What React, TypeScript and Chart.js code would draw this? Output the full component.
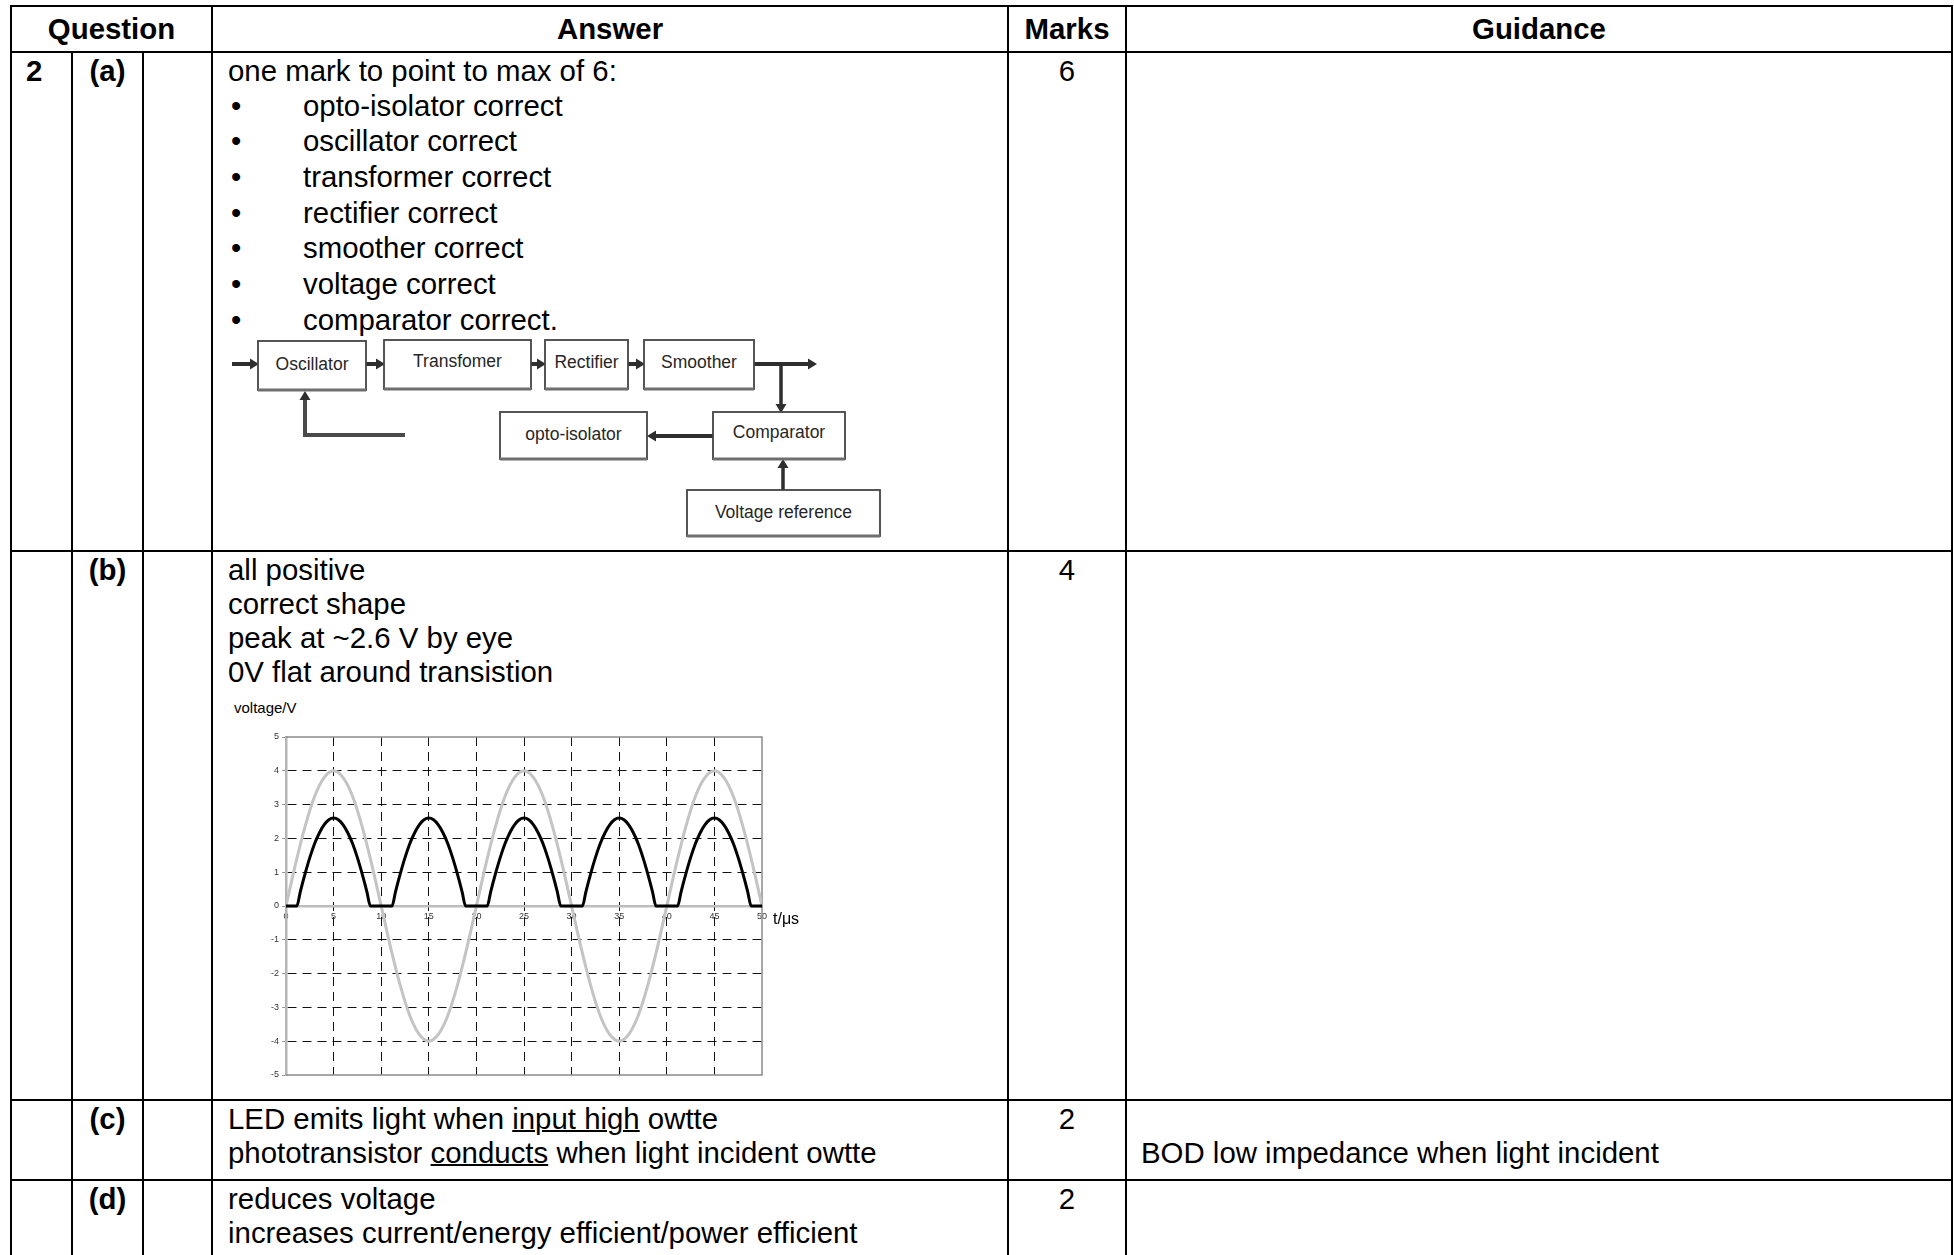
import React, { useEffect, useRef } from 'react';
import { Chart, registerables } from 'chart.js';

Chart.register(...registerables);

const FONT = '"Liberation Sans", Arial, Helvetica, sans-serif';

// ---------- chart data ----------
const xTickValues = [0, 5, 10, 15, 20, 25, 30, 35, 40, 45, 50];
const yTickValues = [-5, -4, -3, -2, -1, 0, 1, 2, 3, 4, 5];

const inputT = [
  0, 1, 2, 3, 4, 5, 6, 7, 8, 9, 10,
  11, 12, 13, 14, 15, 16, 17, 18, 19, 20,
  21, 22, 23, 24, 25, 26, 27, 28, 29, 30,
  31, 32, 33, 34, 35, 36, 37, 38, 39, 40,
  41, 42, 43, 44, 45, 46, 47, 48, 49, 50,
];
const inputV = [
  0, 1.24, 2.35, 3.24, 3.8, 4.0, 3.8, 3.24, 2.35, 1.24, 0,
  -1.24, -2.35, -3.24, -3.8, -4.0, -3.8, -3.24, -2.35, -1.24, 0,
  1.24, 2.35, 3.24, 3.8, 4.0, 3.8, 3.24, 2.35, 1.24, 0,
  -1.24, -2.35, -3.24, -3.8, -4.0, -3.8, -3.24, -2.35, -1.24, 0,
  1.24, 2.35, 3.24, 3.8, 4.0, 3.8, 3.24, 2.35, 1.24, 0,
];

const outputT = [
  0,
  1.14, 1.5, 2, 2.5, 3, 3.5, 4, 4.5, 5, 5.5, 6, 6.5, 7, 7.5, 8, 8.5, 8.86,
  11.14, 11.5, 12, 12.5, 13, 13.5, 14, 14.5, 15, 15.5, 16, 16.5, 17, 17.5, 18, 18.5, 18.86,
  21.14, 21.5, 22, 22.5, 23, 23.5, 24, 24.5, 25, 25.5, 26, 26.5, 27, 27.5, 28, 28.5, 28.86,
  31.14, 31.5, 32, 32.5, 33, 33.5, 34, 34.5, 35, 35.5, 36, 36.5, 37, 37.5, 38, 38.5, 38.86,
  41.14, 41.5, 42, 42.5, 43, 43.5, 44, 44.5, 45, 45.5, 46, 46.5, 47, 47.5, 48, 48.5, 48.86,
  50,
];
const outputV = [
  0,
  0, 0.42, 0.95, 1.43, 1.84, 2.16, 2.4, 2.55, 2.6, 2.55, 2.4, 2.16, 1.84, 1.43, 0.95, 0.42, 0,
  0, 0.42, 0.95, 1.43, 1.84, 2.16, 2.4, 2.55, 2.6, 2.55, 2.4, 2.16, 1.84, 1.43, 0.95, 0.42, 0,
  0, 0.42, 0.95, 1.43, 1.84, 2.16, 2.4, 2.55, 2.6, 2.55, 2.4, 2.16, 1.84, 1.43, 0.95, 0.42, 0,
  0, 0.42, 0.95, 1.43, 1.84, 2.16, 2.4, 2.55, 2.6, 2.55, 2.4, 2.16, 1.84, 1.43, 0.95, 0.42, 0,
  0, 0.42, 0.95, 1.43, 1.84, 2.16, 2.4, 2.55, 2.6, 2.55, 2.4, 2.16, 1.84, 1.43, 0.95, 0.42, 0,
  0,
];

// ---------- table text ----------
const headers = ['Question', 'Answer', 'Marks', 'Guidance'];
const bulletItems = [
  'opto-isolator correct',
  'oscillator correct',
  'transformer correct',
  'rectifier correct',
  'smoother correct',
  'voltage correct',
  'comparator correct.',
];
const partBLines = ['all positive', 'correct shape', 'peak at ~2.6 V by eye', '0V flat around transistion'];

const framePlugin = {
  id: 'frame',
  beforeDatasetsDraw(chart: any) {
    const { ctx, chartArea } = chart;
    const { left, right, top, bottom } = chartArea;
    ctx.save();
    ctx.strokeStyle = '#8c8c8c';
    ctx.lineWidth = 1.5;
    ctx.beginPath();
    ctx.moveTo(left, top);
    ctx.lineTo(right, top);
    ctx.lineTo(right, bottom);
    ctx.lineTo(left, bottom);
    ctx.stroke();
    ctx.restore();
  },
};

function VoltageChart() {
  const ref = useRef<HTMLCanvasElement>(null);
  useEffect(() => {
    if (!ref.current) return;
    const chart = new Chart(ref.current, {
      type: 'line',
      data: {
        datasets: [
          {
            label: 'output',
            data: outputT.map((t, i) => ({ x: t, y: outputV[i] })),
            borderColor: '#000000',
            borderWidth: 3,
            pointRadius: 0,
            cubicInterpolationMode: 'monotone',
            fill: false,
          },
          {
            label: 'input',
            data: inputT.map((t, i) => ({ x: t, y: inputV[i] })),
            borderColor: '#c4c4c4',
            borderWidth: 3,
            pointRadius: 0,
            cubicInterpolationMode: 'monotone',
            fill: false,
          },
        ],
      },
      options: {
        animation: false,
        responsive: false,
        events: [],
        layout: { padding: { left: 0, top: 12, right: 13, bottom: 10 } },
        plugins: { legend: { display: false }, tooltip: { enabled: false } },
        scales: {
          x: {
            type: 'linear',
            min: 0,
            max: 50,
            position: { y: 0 } as any,
            afterBuildTicks: (s: any) => {
              s.ticks = xTickValues.map((v) => ({ value: v }));
            },
            afterFit: (s: any) => {
              s.height = 0;
            },
            ticks: {
              font: { family: FONT, size: 9 },
              color: '#333',
              padding: 5,
              maxRotation: 0,
              autoSkip: false,
            },
            grid: {
              color: (c: any) =>
                c.tick && (c.tick.value === 0 || c.tick.value === 50) ? 'rgba(0,0,0,0)' : '#111',
              lineWidth: 1,
              drawTicks: false,
            },
            border: { display: true, color: '#bdbdbd', width: 2.5, dash: [9, 6] },
          },
          y: {
            type: 'linear',
            min: -5,
            max: 5,
            afterBuildTicks: (s: any) => {
              s.ticks = yTickValues.map((v) => ({ value: v }));
            },
            afterFit: (s: any) => {
              s.width = 56;
            },
            ticks: {
              font: { family: FONT, size: 9 },
              color: '#333',
              padding: 3,
            },
            grid: {
              color: (c: any) =>
                c.tick && (c.tick.value === 0 || c.tick.value === 5 || c.tick.value === -5)
                  ? 'rgba(0,0,0,0)'
                  : '#111',
              lineWidth: 1,
              drawTicks: true,
              tickLength: 4,
              tickColor: '#999',
            },
            border: { display: true, color: '#b5b5b5', width: 2.5, dash: [9, 6] },
          },
        },
      } as any,
      plugins: [framePlugin],
    });
    return () => chart.destroy();
  }, []);
  return (
    <canvas
      ref={ref}
      width={545}
      height={360}
      style={{ position: 'absolute', left: 230, top: 725, width: 545, height: 360 }}
    />
  );
}

// ---------- helpers ----------
type TProps = {
  x: number;
  y: number;
  children: React.ReactNode;
  bold?: boolean;
  size?: number;
  w?: number;
  center?: boolean;
};
function T({ x, y, children, bold, size = 29.4, w = 0, center }: TProps) {
  return (
    <div
      style={{
        position: 'absolute',
        left: x,
        top: y - 17,
        width: center ? w : undefined,
        height: 34,
        lineHeight: '34px',
        fontSize: size,
        fontWeight: bold ? 700 : 400,
        textAlign: center ? 'center' : 'left',
        whiteSpace: 'nowrap',
        color: '#000',
      }}
    >
      {children}
    </div>
  );
}

function HLine({ y, x1 = 10, x2 = 1953 }: { y: number; x1?: number; x2?: number }) {
  return <div style={{ position: 'absolute', left: x1, top: y, width: x2 - x1, height: 2, background: '#000' }} />;
}
function VLine({ x, y1, y2 = 1255 }: { x: number; y1: number; y2?: number }) {
  return <div style={{ position: 'absolute', left: x, top: y1, width: 2, height: y2 - y1, background: '#000' }} />;
}

const DG = '#2e2e2e';
function Box({ x, y, w, h, label, ty }: { x: number; y: number; w: number; h: number; label: string; ty?: number }) {
  return (
    <g>
      <rect x={x} y={y} width={w} height={h} fill="#fff" stroke="#444" strokeWidth={1.8} />
      <line x1={x} y1={y + h} x2={x + w} y2={y + h} stroke="#6e6e6e" strokeWidth={3.2} />
      <text
        x={x + w / 2}
        y={ty !== undefined ? ty : y + h / 2}
        textAnchor="middle"
        dominantBaseline="central"
        fontSize={17.5}
        fill="#262626"
        fontFamily={FONT}
      >
        {label}
      </text>
    </g>
  );
}
function Head({ x, y, dir }: { x: number; y: number; dir: 'r' | 'l' | 'u' | 'd' }) {
  const s = 9;
  const h = 5.5;
  let pts = '';
  if (dir === 'r') pts = `${x},${y} ${x - s},${y - h} ${x - s},${y + h}`;
  if (dir === 'l') pts = `${x},${y} ${x + s},${y - h} ${x + s},${y + h}`;
  if (dir === 'u') pts = `${x},${y} ${x - h},${y + s} ${x + h},${y + s}`;
  if (dir === 'd') pts = `${x},${y} ${x - h},${y - s} ${x + h},${y - s}`;
  return <polygon points={pts} fill={DG} />;
}

function Diagram() {
  return (
    <svg
      style={{ position: 'absolute', left: 225, top: 330 }}
      width={670}
      height={220}
      viewBox="225 330 670 220"
    >
      {/* arrows */}
      <line x1={232} y1={364} x2={252} y2={364} stroke={DG} strokeWidth={4} />
      <Head x={259} y={364} dir="r" />
      <line x1={366} y1={364} x2={378} y2={364} stroke={DG} strokeWidth={4} />
      <Head x={385} y={364} dir="r" />
      <line x1={531} y1={364} x2={539} y2={364} stroke={DG} strokeWidth={4} />
      <Head x={546} y={364} dir="r" />
      <line x1={628} y1={364} x2={638} y2={364} stroke={DG} strokeWidth={4} />
      <Head x={645} y={364} dir="r" />
      <line x1={754} y1={364} x2={810} y2={364} stroke={DG} strokeWidth={4} />
      <Head x={817} y={364} dir="r" />
      <line x1={781} y1={364} x2={781} y2={405} stroke={DG} strokeWidth={3.5} />
      <Head x={781} y={413} dir="d" />
      <line x1={713} y1={436} x2={654} y2={436} stroke={DG} strokeWidth={4} />
      <Head x={647} y={436} dir="l" />
      <line x1={783} y1={490} x2={783} y2={466} stroke={DG} strokeWidth={3.5} />
      <Head x={783} y={459} dir="u" />
      <polyline points="405,435 305,435 305,398" fill="none" stroke="#4a4a4a" strokeWidth={4} />
      <Head x={305} y={391} dir="u" />
      {/* boxes */}
      <Box x={258} y={341} w={108} h={49} label="Oscillator" ty={364} />
      <Box x={384} y={340} w={147} h={49} label="Transfomer" ty={361} />
      <Box x={545} y={340} w={83} h={49} label="Rectifier" ty={362} />
      <Box x={644} y={340} w={110} h={49} label="Smoother" ty={362} />
      <Box x={500} y={412} w={147} h={47} label="opto-isolator" ty={434} />
      <Box x={713} y={412} w={132} h={47} label="Comparator" ty={432} />
      <Box x={687} y={490} w={193} h={46} label="Voltage reference" ty={512} />
    </svg>
  );
}

export default function App() {
  useEffect(() => {
    document.body.style.margin = '0';
    document.documentElement.style.overflow = 'hidden';
  }, []);

  const ansX = 228;
  const bulletY = [106, 141, 177, 213, 248, 284, 320];
  const partBY = [570, 604, 638, 672];

  return (
    <div
      style={{
        position: 'absolute',
        left: 0,
        top: 0,
        width: 1954,
        height: 1255,
        overflow: 'hidden',
        background: '#fff',
        fontFamily: FONT,
      }}
    >
      {/* table lines */}
      <HLine y={5} />
      <HLine y={51} />
      <HLine y={550} />
      <HLine y={1099} />
      <HLine y={1179} />
      <VLine x={10} y1={5} />
      <VLine x={71} y1={51} />
      <VLine x={142} y1={51} />
      <VLine x={211} y1={5} />
      <VLine x={1007} y1={5} />
      <VLine x={1125} y1={5} />
      <VLine x={1951} y1={5} />

      {/* header */}
      <T x={12} w={199} y={29} bold center>{headers[0]}</T>
      <T x={213} w={794} y={29} bold center>{headers[1]}</T>
      <T x={1009} w={116} y={29} bold center>{headers[2]}</T>
      <T x={1127} w={824} y={29} bold center>{headers[3]}</T>

      {/* row a */}
      <T x={26} y={71} bold>2</T>
      <T x={73} w={69} y={71} bold center>(a)</T>
      <T x={ansX} y={71}>one mark to point to max of 6:</T>
      <T x={1009} w={116} y={71} center>6</T>
      {bulletItems.map((b, i) => (
        <React.Fragment key={b}>
          <T x={231} y={bulletY[i]}>•</T>
          <T x={303} y={bulletY[i]}>{b}</T>
        </React.Fragment>
      ))}
      <Diagram />

      {/* row b */}
      <T x={73} w={69} y={570} bold center>(b)</T>
      <T x={1009} w={116} y={570} center>4</T>
      {partBLines.map((l, i) => (
        <T key={l} x={ansX} y={partBY[i]}>{l}</T>
      ))}
      <div style={{ position: 'absolute', left: 234, top: 699, fontSize: 15, lineHeight: '17px', whiteSpace: 'nowrap' }}>
        voltage/V
      </div>
      <VoltageChart />
      <div style={{ position: 'absolute', left: 773, top: 910, fontSize: 16, lineHeight: '18px', whiteSpace: 'nowrap' }}>
        t/μs
      </div>

      {/* row c */}
      <T x={73} w={69} y={1119} bold center>(c)</T>
      <T x={1009} w={116} y={1119} center>2</T>
      <T x={ansX} y={1119}>
        LED emits light when <u style={{ textDecorationThickness: 2 }}>input high</u> owtte
      </T>
      <T x={ansX} y={1153}>
        phototransistor <u style={{ textDecorationThickness: 2 }}>conducts</u> when light incident owtte
      </T>
      <T x={1141} y={1153}>BOD low impedance when light incident</T>

      {/* row d */}
      <T x={73} w={69} y={1199} bold center>(d)</T>
      <T x={1009} w={116} y={1199} center>2</T>
      <T x={ansX} y={1199}>reduces voltage</T>
      <T x={ansX} y={1233}>increases current/energy efficient/power efficient</T>
    </div>
  );
}
